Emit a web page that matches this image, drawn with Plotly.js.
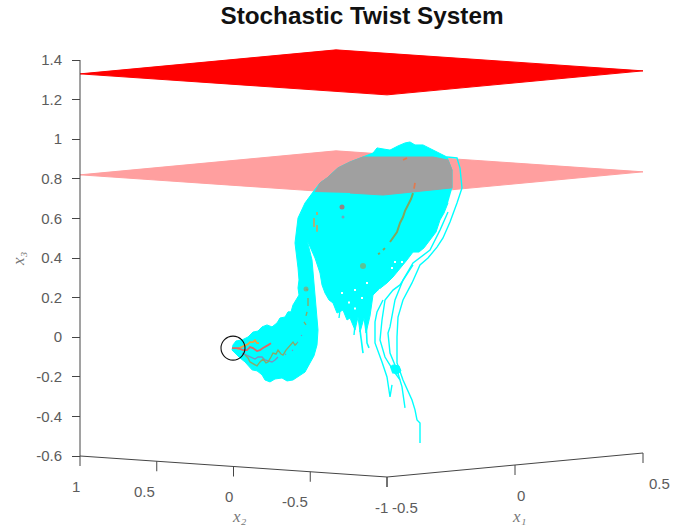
<!DOCTYPE html>
<html>
<head>
<meta charset="utf-8">
<script src="https://cdn.plot.ly/plotly-3.0.1.min.js"></script>
<style>html,body{margin:0;padding:0;background:#fff}</style>
</head>
<body>
<div id="chart" style="width:694px;height:527px"></div>
<script>
// Values. "H" = horizontal coordinate on the view plane, "X3" = height on the x3 axis.
const x3Ticks = [-0.6,-0.4,-0.2,0,0.2,0.4,0.6,0.8,1,1.2,1.4];
const x3TickLabels = ['-0.6','-0.4','-0.2','0','0.2','0.4','0.6','0.8','1','1.2','1.4'];
const x2Ticks = [1,0.5,0,-0.5,-1];
const x2TickLabels = ['1','0.5','0','-0.5','-1'];
const x1Ticks = [-0.5,0,0.5];
const x1TickLabels = ['-0.5','0','0.5'];
const upperPlaneX3 = 1.33;
const lowerPlaneX3 = 0.82;

const bodyH = [448,444,440,436,430,424,419,413,407,402,393,387,378,373,370,366,364,360,358,355,350,347,343,337,333,329,325,322,320,315,307,312,315,317,318,317,314,310,305,299,293,287,282,275,270,265,262,257,252,245,240,232,233,236,242,248,253,258,262,267,272,277,280,285,288,291,293,296,299,298,299,298,297,295,298,305,313,320,327,338,350,363,373,377,390,398,405,410,415,423,433,447,452,452];
const bodyX3 = [.678,.627,.592,.531,.491,.451,.430,.430,.390,.360,.304,.274,.238,.213,.107,.021,.097,.026,.102,.036,.097,.087,.137,.122,.173,.188,.223,.264,.324,.400,.491,.390,.213,.123,.036,-.039,-.094,-.130,-.176,-.196,-.216,-.221,-.206,-.211,-.226,-.216,-.190,-.170,-.165,-.125,-.105,-.065,-.039,-.019,-.014,.001,.026,.031,.052,.062,.052,.072,.097,.102,.128,.128,.163,.188,.213,.249,.289,.350,.400,.476,.602,.678,.733,.779,.804,.855,.885,.910,.930,.956,.945,.966,.981,.986,.971,.971,.945,.910,.844,.749];

const gapH = [355,362,392,395,402,367,342,355,380,349,375];
const gapX3 = [.145,.198,.350,.380,.380,.274,.223,.239,.239,.175,.150];

const overlapH = [315,320,327,338,350,363,400,433,448,452,452,413,383,350];
const overlapX3 = [.733,.779,.804,.855,.885,.910,.910,.910,.895,.844,.754,.733,.718,.728];

const strandAH = [447,457,460,462,457,450,443,437,428,420,416,412,403,398,397,397,403,408,412,415,417,420,420];
const strandAX3 = [.910,.905,.854,.754,.678,.582,.501,.455,.400,.365,.319,.274,.188,.102,.001,-.130,-.216,-.276,-.317,-.367,-.418,-.433,-.534];
const strandBH = [448,440,430,413,403,395,390,388,390,397,402,405];
const strandBX3 = [.632,.541,.440,.375,.289,.188,.052,.021,-.080,-.166,-.251,-.357];
const strandCH = [413,400,393,385,382,380,385,393,400];
const strandCX3 = [.365,.264,.238,.188,.087,-.014,-.100,-.166,-.216];
const strandDH = [383,377,375,375,382,387,390,392];
const strandDX3 = [.188,.127,.077,-.029,-.125,-.201,-.302,-.241];
const strandEH = [366,367,369];
const strandEX3 = [.087,-.029,-.054];
const strandFH = [360,363];
const strandFX3 = [.036,-.080];
const strandGH = [355,354];
const strandGX3 = [.062,.011];
const strandHH = [340,339];
const strandHX3 = [.137,.097];
const tangleH = [390,393,399,401,398,392];
const tangleX3 = [-.150,-.140,-.145,-.170,-.185,-.180];

const redPathH = [232,238,243,247,250,253,257,260,263,265,268,271];
const redPathX3 = [-.055,-.055,-.065,-.065,-.050,-.055,-.070,-.065,-.055,-.050,-.040,-.030];
const orangePathH = [237,241,245,248,250,253,255,257,259];
const orangePathX3 = [-.060,-.050,-.040,-.035,-.025,-.025,-.015,-.030,-.030];
const greenPathH = [245,248,250,254,257,260,263,266,268,271,273,276,278,281,283,286,288,291,293,295,297];
const greenPathX3 = [-.090,-.105,-.125,-.135,-.145,-.125,-.110,-.130,-.125,-.100,-.080,-.085,-.065,-.085,-.090,-.065,-.055,-.035,-.025,-.040,-.030];
const bluePathH = [242,246,252,255,258,262,265,268,272,275,278,null,285,286,null,292,293,null,297,298,null,301,302];
const bluePathX3 = [-.080,-.090,-.105,-.110,-.100,-.100,-.115,-.120,-.125,-.115,-.100,null,-.085,-.088,null,-.065,-.068,null,-.025,-.028,null,.010,.007];
const stemPathH = [306,308,null,308,308,null,307,306,null,304,306];
const stemPathX3 = [.243,.238,null,.198,.158,null,.128,.108,null,.077,.062];
const upperPathH = [413,411,408,405,403,400,397,393,390,null,385,383,null,378,380];
const upperPathX3 = [.728,.698,.668,.638,.607,.577,.531,.501,.481,null,.450,.440,null,.420,.425];
const upperOrangeH = [415,414,null,403,407];
const upperOrangeX3 = [.779,.750,null,.895,.905];
const leftOrangeH = [317,317,null,314,314,null,317,317];
const leftOrangeX3 = [.632,.617,null,.602,.557,null,.567,.532];
const spotH = [342,343,363,306];
const spotX3 = [.657,.607,.360,.243];
const spotColors = ['#d05050','#a080a0','#84a868','#90a070'];
const spotSizes = [5,3,6,5];
const startPointH = [233];
const startPointX3 = [-.055];

// Orthographic view of the (x1, x2, x3) box
const PX_PER_X3 = 198;
function viewH(x1, x2) { return 387 + (x1 + 0.5) * 256 - (x2 + 1) * 153.5; }
function viewX3(x1, x2, x3) {
  return x3 + (-21 + (x1 + 0.5) * 24 + (x2 + 1) * 10.5) / PX_PER_X3;
}
function plane(level, color) {
  const a = [[-0.5,1],[-0.5,-1],[0.5,-1],[0.5,1],[-0.5,1]];
  return {type:'scatter', mode:'lines', x:a.map(p=>viewH(p[0],p[1])), y:a.map(p=>viewX3(p[0],p[1],level)),
    fill:'toself', fillcolor:color, line:{color:color,width:1}, hoverinfo:'skip'};
}
function path(h, v, color, width) {
  return {type:'scatter', mode:'lines', x:h, y:v, line:{color:color,width:width||1}, hoverinfo:'skip', connectgaps:false};
}
function area(h, v, color) {
  return {type:'scatter', mode:'lines', x:h, y:v, fill:'toself', fillcolor:color, line:{color:color,width:1}, hoverinfo:'skip'};
}

const CYAN = '#00ffff', AXIS = '#454545', TEXT = '#5c5c5c';
const TICK = 10 / PX_PER_X3;
const BASE = -0.6;
const LEFT_H = viewH(-0.5, 1);

const boxH = [LEFT_H, viewH(-0.5,-1), viewH(0.5,-1)];
const boxV = [viewX3(-0.5,1,BASE), viewX3(-0.5,-1,BASE), viewX3(0.5,-1,BASE)];
const tickH = [], tickV = [];
x2Ticks.forEach(t => { tickH.push(viewH(-0.5,t),viewH(-0.5,t),null); tickV.push(viewX3(-0.5,t,BASE),viewX3(-0.5,t,BASE)-TICK,null); });
x1Ticks.forEach(t => { tickH.push(viewH(t,-1),viewH(t,-1),null); tickV.push(viewX3(t,-1,BASE),viewX3(t,-1,BASE)-TICK,null); });

const traces = [
  plane(lowerPlaneX3, '#ff9f9f'),
  area(bodyH, bodyX3, CYAN),
  {type:'scatter', mode:'markers', x:gapH, y:gapX3, marker:{symbol:'square', color:'#fff', size:2, line:{width:0}}, hoverinfo:'skip'},
  path(strandAH, strandAX3, CYAN, 1.4), path(strandBH, strandBX3, CYAN, 1.4), path(strandCH, strandCX3, CYAN, 1.4),
  path(strandDH, strandDX3, CYAN, 1.4), path(strandEH, strandEX3, CYAN, 1.6), path(strandFH, strandFX3, CYAN, 1.6),
  path(strandGH, strandGX3, CYAN, 1.4), path(strandHH, strandHX3, CYAN, 1.4), area(tangleH, tangleX3, CYAN),
  area(overlapH, overlapX3, '#a0a0a0'),
  path(bluePathH, bluePathX3, '#7d8fc0', 1.3),
  path(greenPathH, greenPathX3, '#86ab6c', 1.4),
  path(stemPathH, stemPathX3, '#86ab6c', 1.4),
  path(upperPathH, upperPathX3, '#7fa860', 2),
  path(upperOrangeH, upperOrangeX3, '#e07a50', 1.8),
  path(leftOrangeH, leftOrangeX3, '#d0a060', 1.6),
  path(orangePathH, orangePathX3, '#eea040', 1.8),
  path(redPathH, redPathX3, '#e06868', 1.8),
  {type:'scatter', mode:'markers', x:spotH, y:spotX3,
   marker:{color:spotColors, size:spotSizes, line:{width:0}}, hoverinfo:'skip'},
  plane(upperPlaneX3, '#ff0000'),
  {type:'scatter', mode:'markers', x:startPointH, y:startPointX3,
   marker:{symbol:'circle-open', size:24, color:'#111', line:{color:'#111',width:1.1}}, hoverinfo:'skip'},
  path([LEFT_H, LEFT_H], [x3Ticks[0], x3Ticks[x3Ticks.length-1]], AXIS, 1),
  path(boxH, boxV, AXIS, 1),
  path(tickH, tickV, AXIS, 1)
];

const tickFont = {family:'"Liberation Sans", Arial, sans-serif', size:15, color:TEXT};
const mathFont = {family:'"Liberation Serif", "DejaVu Serif", serif', size:17, color:'#777', style:'italic'};
const annotations = [];
const x2Shift = [-4,-12,-5,-15,-6];
const x1Shift = [18,6,16];
x2Ticks.forEach((t,i) => annotations.push({xref:'x',yref:'y',x:viewH(-0.5,t),y:viewX3(-0.5,t,BASE),text:x2TickLabels[i],
  showarrow:false,xshift:x2Shift[i],yshift:-30,font:tickFont,xanchor:'center',yanchor:'middle'}));
x1Ticks.forEach((t,i) => annotations.push({xref:'x',yref:'y',x:viewH(t,-1),y:viewX3(t,-1,BASE),text:x1TickLabels[i],
  showarrow:false,xshift:x1Shift[i],yshift:-30,font:tickFont,xanchor:'center',yanchor:'middle'}));
annotations.push(
  {xref:'paper',yref:'paper',x:239/694,y:1-516/527,text:'x\u2082',showarrow:false,font:mathFont,xanchor:'center',yanchor:'middle'},
  {xref:'paper',yref:'paper',x:519/694,y:1-516/527,text:'x\u2081',showarrow:false,font:mathFont,xanchor:'center',yanchor:'middle'},
  {xref:'paper',yref:'paper',x:18/694,y:1-259/527,text:'x\u2083',textangle:-90,showarrow:false,font:mathFont,xanchor:'center',yanchor:'middle'}
);

const layout = {
  width:694, height:527,
  margin:{l:0,r:0,t:0,b:0,pad:0},
  paper_bgcolor:'#fff', plot_bgcolor:'rgba(0,0,0,0)',
  showlegend:false,
  title:{text:'<b>Stochastic Twist System</b>', x:362/694, xanchor:'center', xref:'paper', y:1-15/527, yanchor:'middle',
    font:{family:'"Liberation Sans", Arial, sans-serif', size:24.3, color:'#111'}},
  xaxis:{range:[0,694], visible:false, fixedrange:true},
  yaxis:{range:[-189.8/PX_PER_X3, 337.2/PX_PER_X3], anchor:'free', position:LEFT_H/694,
    tickmode:'array', tickvals:x3Ticks, ticktext:x3TickLabels, ticks:'outside', ticklen:8, tickwidth:1,
    tickcolor:AXIS, showline:false, showgrid:false, zeroline:false, tickfont:tickFont,
    ticklabelstandoff:7, fixedrange:true},
  annotations:annotations
};
Plotly.newPlot('chart', traces, layout, {displayModeBar:false, staticPlot:true});
</script>
</body>
</html>
